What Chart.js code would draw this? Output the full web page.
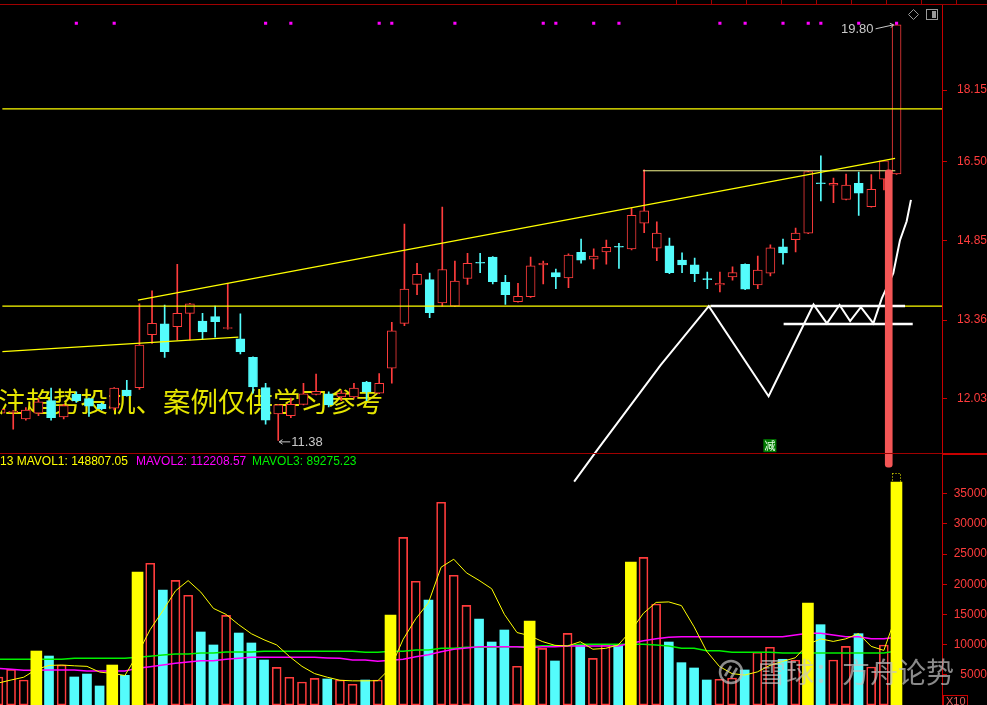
<!DOCTYPE html>
<html lang="zh">
<head>
<meta charset="utf-8">
<title>K线</title>
<script src="https://cdn.jsdelivr.net/npm/chart.js@4.4.1/dist/chart.umd.min.js"></script>
<style>
  html, body { margin: 0; padding: 0; background: #000; }
  #board { position: relative; width: 987px; height: 705px; overflow: hidden; background: #000; }
  #board canvas { position: absolute; left: 0; }
  #priceChart { top: 0; }
  #volumeChart { top: 453px; }
</style>
</head>
<body>
<div id="board">
  <canvas id="priceChart" width="987" height="490"></canvas>
  <canvas id="volumeChart" width="987" height="252"></canvas>
</div>
<script>
// daily candles (index 0 is the half-hidden one on the left edge)
const opens = [11.80, 11.81, 11.71, 11.80, 12.00, 11.74, 12.10, 12.03, 11.94, 11.88,
  12.17, 12.21, 13.10, 13.29, 13.24, 13.48, 13.34, 13.42, 13.21, 13.03,
  12.71, 12.21, 11.79, 11.76, 11.94, 12.10, 12.11, 12.06, 12.06, 12.30,
  12.12, 12.53, 13.30, 14.01, 14.10, 13.67, 13.61, 14.12, 14.42, 14.53,
  14.05, 13.69, 13.78, 14.38, 14.23, 14.13, 14.62, 14.49, 14.63, 14.73,
  14.69, 15.20, 14.70, 14.75, 14.47, 14.38, 14.11, 14.00, 14.15, 14.39,
  14.00, 14.22, 14.73, 14.87, 15.00, 16.03, 15.99, 15.69, 16.03, 15.54,
  16.12, 16.23];
const highs = [11.88, 11.84, 11.89, 12.03, 12.20, 11.94, 12.14, 12.04, 11.96, 12.21,
  12.33, 13.65, 13.89, 13.63, 14.39, 13.66, 13.48, 13.61, 14.03, 13.47,
  12.72, 12.28, 11.94, 12.04, 12.28, 12.43, 12.14, 12.16, 12.28, 12.31,
  12.44, 13.32, 15.18, 14.41, 14.22, 15.53, 14.45, 14.60, 14.60, 14.54,
  14.18, 14.03, 14.53, 14.45, 14.30, 14.59, 14.88, 14.69, 14.86, 14.80,
  15.51, 16.32, 15.23, 14.90, 14.61, 14.51, 14.24, 14.24, 14.34, 14.40,
  14.55, 14.77, 14.88, 15.10, 16.29, 16.63, 16.14, 16.23, 16.27, 16.22,
  16.53, 19.80];
const lows = [11.74, 11.55, 11.69, 11.76, 11.69, 11.71, 11.97, 11.75, 11.85, 11.85,
  12.07, 12.18, 12.95, 12.71, 13.01, 13.01, 13.02, 13.06, 13.20, 12.77,
  12.12, 11.63, 11.38, 11.73, 11.93, 12.09, 11.90, 12.00, 12.04, 12.00,
  12.11, 12.28, 13.26, 13.82, 13.40, 13.61, 13.60, 14.01, 14.23, 14.02,
  13.64, 13.68, 13.77, 14.02, 13.93, 13.95, 14.41, 14.30, 14.39, 14.31,
  14.67, 15.01, 14.46, 14.21, 14.23, 14.06, 13.93, 13.87, 14.09, 13.91,
  13.93, 14.17, 14.39, 14.63, 14.99, 15.66, 15.62, 15.68, 15.36, 15.53,
  15.89, 16.22];
const closes = [11.86, 11.83, 11.85, 11.98, 11.73, 11.92, 12.00, 11.91, 11.87, 12.20,
  12.08, 12.92, 13.30, 12.81, 13.48, 13.65, 13.15, 13.33, 13.22, 12.81,
  12.22, 11.69, 11.93, 11.94, 12.11, 12.15, 11.93, 12.12, 12.20, 12.14,
  12.28, 13.17, 13.92, 14.20, 13.49, 14.29, 14.07, 14.41, 14.41, 14.06,
  13.82, 13.79, 14.36, 14.41, 14.15, 14.57, 14.47, 14.55, 14.72, 14.72,
  15.36, 15.45, 15.00, 14.23, 14.38, 14.21, 14.10, 14.03, 14.23, 13.92,
  14.28, 14.71, 14.61, 15.00, 16.28, 16.02, 16.03, 15.99, 15.82, 15.90,
  16.52, 19.80];

// volume (axis unit x10)
const volumes = [4640, 5910, 4140, 8940, 8110, 6620, 4640, 5130, 3150, 6620,
  4910, 22030, 23470, 19040, 20650, 18170, 12090, 9940, 14850, 11920,
  10270, 7450, 6240, 4590, 3810, 4420, 4310, 4140, 3430, 4140,
  4140, 14900, 27770, 20490, 17390, 33570, 21480, 16510, 14240, 10430,
  12420, 6410, 13910, 9390, 7290, 11870, 9940, 7730, 10050, 10050,
  23680, 24460, 16730, 10430, 7010, 6130, 4140, 4260, 4470, 5800,
  8730, 9560, 7570, 7450, 16890, 13300, 7450, 9720, 11810, 6290,
  9940, 36930];
const hotVolumeDays = [3, 9, 11, 31, 42, 50, 64, 71];
const projectedVolume = 38420;

const mavol1 = [3640, 4140, 4600, 5900, 6550, 6620, 6490, 6400, 5450, 5230,
  4890, 8400, 12500, 15600, 18900, 20600, 18700, 16000, 15000, 13300,
  11800, 10800, 9950, 8050, 6400, 5200, 4600, 4100, 4000, 4000,
  4030, 6150, 10880, 14290, 16940, 22820, 24140, 21890, 20640, 19250,
  15020, 12000, 11480, 10510, 9880, 9770, 10480, 9240, 9380, 9930,
  12290, 15200, 16990, 17070, 16460, 12950, 8890, 6390, 5200, 4960,
  5480, 6560, 7220, 7820, 10040, 10950, 10530, 10960, 11830, 9710,
  9040, 14940];
const mavol2 = [6080, 5910, 5750, 5750, 5800, 5800, 5800, 5630, 5630, 5630,
  5630, 6080, 6340, 6620, 6910, 7120, 7340, 7340, 7570, 7730,
  7900, 7900, 7900, 7900, 7900, 7900, 7800, 7730, 7450, 7450,
  7240, 7400, 7570, 8000, 8330, 8830, 9220, 9440, 9660, 9660,
  9660, 9660, 9490, 9660, 9660, 9770, 9770, 9770, 9770, 9770,
  10220, 10650, 10980, 11210, 11310, 11310, 11310, 11310, 11310, 11310,
  11310, 11310, 11310, 11590, 11870, 11870, 11590, 11310, 11310, 10980,
  10980, 11220];
const mavol3 = [7570, 7570, 7570, 7570, 7570, 7570, 7730, 7730, 7730, 7730,
  7730, 7900, 8070, 8280, 8450, 8450, 8610, 8610, 8780, 8780,
  8780, 8890, 8890, 8890, 8890, 8890, 8890, 8890, 8890, 8730,
  8730, 8890, 8890, 9110, 9110, 9390, 9390, 9560, 9560, 9560,
  9660, 9660, 9660, 9820, 9820, 9820, 10050, 10050, 10050, 10050,
  10050, 10050, 9940, 9770, 9390, 9390, 8990, 8990, 8730, 8730,
  8730, 8730, 8610, 8610, 8610, 8610, 8610, 8610, 8610, 8610,
  8610, 8930];
const legendValues = ['148807.05', '112208.57', '89275.23'];

const priceTicks = [12.03, 13.36, 14.85, 16.50, 18.15];
const volumeTicks = [5000, 10000, 15000, 20000, 25000, 30000, 35000];

// hand-drawn studies: [day index, price]
const levelLines = [17.70, 13.61];
const upperTrend = [[10.88, 13.72], [70.88, 16.57]];
const lowerTrend = [[0.13, 12.81], [18.84, 13.06]];
const boxTop = [[50.9, 16.30], [70.9, 16.30]];
const sketchPath = [[45.45, 10.77], [47.30, 11.24], [52.30, 12.58], [56.12, 13.61],
  [60.86, 12.07], [64.42, 13.64], [65.48, 13.30], [66.48, 13.63], [67.32, 13.34],
  [68.17, 13.59], [69.16, 13.30], [69.83, 13.75], [70.74, 14.22], [71.27, 14.86],
  [71.80, 15.24], [72.14, 15.68]];
const neckline = [[56.25, 13.61], [71.67, 13.61]];
const baseLine = [[62.05, 13.29], [72.28, 13.29]];
const signalBar = { x: 70.38, from: 10.98, to: 16.32 };
const signalDays = [6, 9, 21, 23, 30, 31, 36, 43, 44, 47, 49, 57, 59, 62, 64, 65, 68, 71];
const signalLevel = 19.84;
const cutMark = { day: 61, price: 11.30, text: '减' };
const noteText = '注趋势投机、案例仅供学习参考';

const X_MIN = 0.126, X_MAX = 74.6;
const RED = '#ff3c3c', CYAN = '#54fcfc', YELLOW = '#ffff00', MAGENTA = '#ff00ff',
  GREEN = '#00f000', WHITE = '#ffffff', FRAME = '#a00000', AXIS = '#c80000';

const days = closes.map((_, i) => i);
const lastDay = days.length - 1;
const isUp = (i) => closes[i] >= opens[i];
const candleColor = (i) => (isUp(i) ? RED : CYAN);
const pts = (pairs) => pairs.map(([x, y]) => ({ x, y }));
const hot = (i) => hotVolumeDays.includes(i);
const volPoint = (i) => ({ x: i, y: volumes[i] });

const baseOptions = {
  responsive: false,
  animation: false,
  devicePixelRatio: 1,
  events: [],
  elements: { point: { radius: 0, hoverRadius: 0 }, line: { tension: 0 } },
  plugins: { legend: { display: false }, tooltip: { enabled: false } },
};

const xAxis = { type: 'linear', min: X_MIN, max: X_MAX, offset: false, stacked: true, display: false };

function rightAxis(extra) {
  return {
    position: 'right',
    stacked: false,
    bounds: 'data',
    // fixed 45px axis column, and no extra room for the outer labels
    afterFit: (s) => { s.width = 45; s.paddingTop = 0; s.paddingBottom = 0; },
    grid: { drawOnChartArea: false, color: AXIS, tickLength: 5 },
    border: { color: AXIS },
    ...extra,
  };
}

function arrow(ctx, x1, y1, x2, y2) {
  const a = Math.atan2(y2 - y1, x2 - x1);
  ctx.beginPath();
  ctx.moveTo(x1, y1);
  ctx.lineTo(x2, y2);
  ctx.moveTo(x2, y2);
  ctx.lineTo(x2 - 4 * Math.cos(a - 0.6), y2 - 4 * Math.sin(a - 0.6));
  ctx.moveTo(x2, y2);
  ctx.lineTo(x2 - 4 * Math.cos(a + 0.6), y2 - 4 * Math.sin(a + 0.6));
  ctx.stroke();
}

const priceDecor = {
  id: 'priceDecor',
  beforeDatasetsDraw(chart) {
    const { ctx } = chart;
    ctx.save();
    ctx.font = '27.5px "Noto Sans CJK SC"';
    ctx.fillStyle = '#e6e600';
    ctx.textBaseline = 'middle';
    ctx.fillText(noteText, -2, 402);
    ctx.restore();
  },
  afterDraw(chart) {
    const { ctx, scales: { x, y } } = chart;
    ctx.save();
    // top frame and its little ruler marks
    ctx.fillStyle = FRAME;
    ctx.fillRect(0, 4, 987, 1);
    for (let px = 676; px < 987; px += 35) ctx.fillRect(px, 0, 1, 4);

    // toolbar icons
    ctx.strokeStyle = '#999';
    ctx.lineWidth = 1;
    ctx.beginPath();
    ctx.moveTo(913.5, 9.5); ctx.lineTo(918.5, 14.5); ctx.lineTo(913.5, 19.5); ctx.lineTo(908.5, 14.5);
    ctx.closePath();
    ctx.stroke();
    ctx.strokeRect(926.5, 9.5, 11, 10);
    ctx.fillStyle = '#999';
    ctx.fillRect(932, 11, 4, 7);

    // highest / lowest markers
    ctx.font = '13px "Liberation Sans"';
    ctx.fillStyle = '#c8c8c8';
    ctx.strokeStyle = '#c8c8c8';
    ctx.textBaseline = 'middle';
    const hi = highs.indexOf(Math.max(...highs));
    const hx = x.getPixelForValue(hi), hy = y.getPixelForValue(highs[hi]);
    ctx.textAlign = 'right';
    ctx.fillText(highs[hi].toFixed(2), hx - 23, hy + 5);
    arrow(ctx, hx - 21, hy + 4, hx - 3, hy);
    const lo = lows.indexOf(Math.min(...lows));
    const lx = x.getPixelForValue(lo), ly = y.getPixelForValue(lows[lo]);
    ctx.textAlign = 'left';
    ctx.fillText(lows[lo].toFixed(2), lx + 13, ly + 2);
    arrow(ctx, lx + 12, ly + 1.5, lx + 1, ly + 1.5);

    // "cut" mark
    const cx = x.getPixelForValue(cutMark.day), cy = y.getPixelForValue(cutMark.price);
    ctx.fillStyle = '#007a00';
    ctx.fillRect(cx - 7, cy - 6.5, 13, 13);
    ctx.fillStyle = '#e8ffe8';
    ctx.font = '11px "Noto Sans CJK SC"';
    ctx.textAlign = 'center';
    ctx.fillText(cutMark.text, cx - 0.5, cy + 0.5);
    ctx.restore();
  },
};

const volumeDecor = {
  id: 'volumeDecor',
  afterDraw(chart) {
    const { ctx, scales: { x, y } } = chart;
    ctx.save();
    ctx.fillStyle = FRAME;
    ctx.fillRect(0, 0, 987, 1);
    ctx.fillStyle = AXIS;
    ctx.fillRect(942, 0, 45, 2);

    // indicator legend
    ctx.font = '12px "Liberation Sans"';
    ctx.textBaseline = 'middle';
    ctx.textAlign = 'left';
    [['13 MAVOL1: ' + legendValues[0], 0, YELLOW],
     ['MAVOL2: ' + legendValues[1], 136, MAGENTA],
     ['MAVOL3: ' + legendValues[2], 252, GREEN]].forEach(([t, px, c]) => {
      ctx.fillStyle = c;
      ctx.fillText(t, px, 9);
    });

    // projected volume of the last session
    const bx = x.getPixelForValue(lastDay);
    const top = y.getPixelForValue(projectedVolume), cur = y.getPixelForValue(volumes[lastDay]);
    ctx.strokeStyle = YELLOW;
    ctx.lineWidth = 1;
    ctx.setLineDash([1, 2]);
    ctx.strokeRect(Math.round(bx - 4) + 0.5, Math.round(top) + 0.5, 8, cur - top);
    ctx.setLineDash([]);

    // unit box
    ctx.strokeStyle = AXIS;
    ctx.strokeRect(943.5, 242.5, 24, 12);
    ctx.fillStyle = '#e06060';
    ctx.font = '11px "Liberation Sans"';
    ctx.fillText('X10', 946, 249);

    // watermark
    ctx.globalAlpha = 0.7;
    ctx.strokeStyle = '#c4c4c4';
    ctx.lineWidth = 2.5;
    ctx.beginPath();
    ctx.arc(731, 219, 11, 0, Math.PI * 2);
    ctx.stroke();
    ctx.beginPath();
    ctx.moveTo(725, 223); ctx.lineTo(731, 213);
    ctx.moveTo(731, 225); ctx.lineTo(737, 215);
    ctx.stroke();
    ctx.fillStyle = '#c4c4c4';
    ctx.font = '28px "Noto Sans CJK SC"';
    ctx.fillText('雪球：方舟论势', 758, 219);
    ctx.restore();
  },
};

new Chart(document.getElementById('priceChart'), {
  type: 'bar',
  data: {
    datasets: [
      { type: 'line', data: signalDays.map((d) => ({ x: d, y: signalLevel })), showLine: false,
        pointStyle: 'rect', pointRadius: 2.2, pointBackgroundColor: MAGENTA, pointBorderWidth: 0, order: 0 },
      { type: 'bar', data: [{ x: signalBar.x, y: [signalBar.from, signalBar.to] }], backgroundColor: '#f45656',
        barThickness: 7, borderRadius: 3, borderSkipped: false, clip: false, order: 1 },
      { type: 'line', data: pts(sketchPath), borderColor: WHITE, borderWidth: 2, clip: false, order: 2 },
      { type: 'line', data: pts(neckline), borderColor: WHITE, borderWidth: 2.5, order: 2 },
      { type: 'line', data: pts(baseLine), borderColor: WHITE, borderWidth: 2.5, order: 2 },
      ...levelLines.map((lv) => ({ type: 'line', data: [{ x: X_MIN, y: lv }, { x: X_MAX, y: lv }],
        borderColor: YELLOW, borderWidth: 1.2, order: 3 })),
      { type: 'line', data: pts(upperTrend), borderColor: YELLOW, borderWidth: 1.2, order: 3 },
      { type: 'line', data: pts(lowerTrend), borderColor: YELLOW, borderWidth: 1.2, order: 3 },
      { type: 'line', data: pts(boxTop), borderColor: '#f4f48c', borderWidth: 1, order: 3 },
      { type: 'bar', data: days.map((i) => ({ x: i, y: [opens[i], closes[i]] })),
        backgroundColor: days.map((i) => (isUp(i) ? '#000' : CYAN)), borderColor: days.map(candleColor),
        borderWidth: 1, borderSkipped: false, barThickness: 9, minBarLength: 1, order: 4 },
      { type: 'bar', data: days.map((i) => ({ x: i, y: [lows[i], highs[i]] })),
        backgroundColor: days.map(candleColor), barThickness: 1, order: 5 },
    ],
  },
  options: {
    ...baseOptions,
    layout: { padding: { top: 5, bottom: 37, left: 0, right: 0 } },
    scales: {
      x: xAxis,
      y: rightAxis({
        type: 'logarithmic', min: 11.19, max: 20.33,
        afterBuildTicks: (s) => { s.ticks = priceTicks.map((v) => ({ value: v })); },
        ticks: { color: RED, font: { family: 'Liberation Sans', size: 12 }, crossAlign: 'far', autoSkip: false,
          padding: 9, callback: (v) => Number(v).toFixed(2) },
      }),
    },
  },
  plugins: [priceDecor],
});

new Chart(document.getElementById('volumeChart'), {
  type: 'bar',
  data: {
    datasets: [
      { type: 'bar', data: hotVolumeDays.map(volPoint), backgroundColor: YELLOW, barThickness: 11, order: 1 },
      { type: 'line', data: days.map((i) => ({ x: i, y: mavol1[i] })), borderColor: YELLOW, borderWidth: 1, order: 2 },
      { type: 'line', data: days.map((i) => ({ x: i, y: mavol2[i] })), borderColor: MAGENTA, borderWidth: 1.5, order: 2 },
      { type: 'line', data: days.map((i) => ({ x: i, y: mavol3[i] })), borderColor: GREEN, borderWidth: 1.5, order: 2 },
      { type: 'bar', data: days.filter((i) => !hot(i) && !isUp(i)).map(volPoint), backgroundColor: CYAN,
        barThickness: 9, order: 3 },
      { type: 'bar', data: days.filter((i) => !hot(i) && isUp(i)).map(volPoint), backgroundColor: 'rgba(0,0,0,0)',
        borderColor: RED, borderWidth: 1, borderSkipped: false, barThickness: 9, order: 3 },
    ],
  },
  options: {
    ...baseOptions,
    layout: { padding: { top: 1, bottom: 0, left: 0, right: 0 } },
    scales: {
      x: xAxis,
      y: rightAxis({
        type: 'linear', min: 0, max: 41566,
        afterBuildTicks: (s) => { s.ticks = volumeTicks.map((v) => ({ value: v })); },
        ticks: { color: RED, font: { family: 'Liberation Sans', size: 12 }, crossAlign: 'far', autoSkip: false,
          padding: 6, callback: (v) => String(v) },
      }),
    },
  },
  plugins: [volumeDecor],
});
</script>
</body>
</html>
